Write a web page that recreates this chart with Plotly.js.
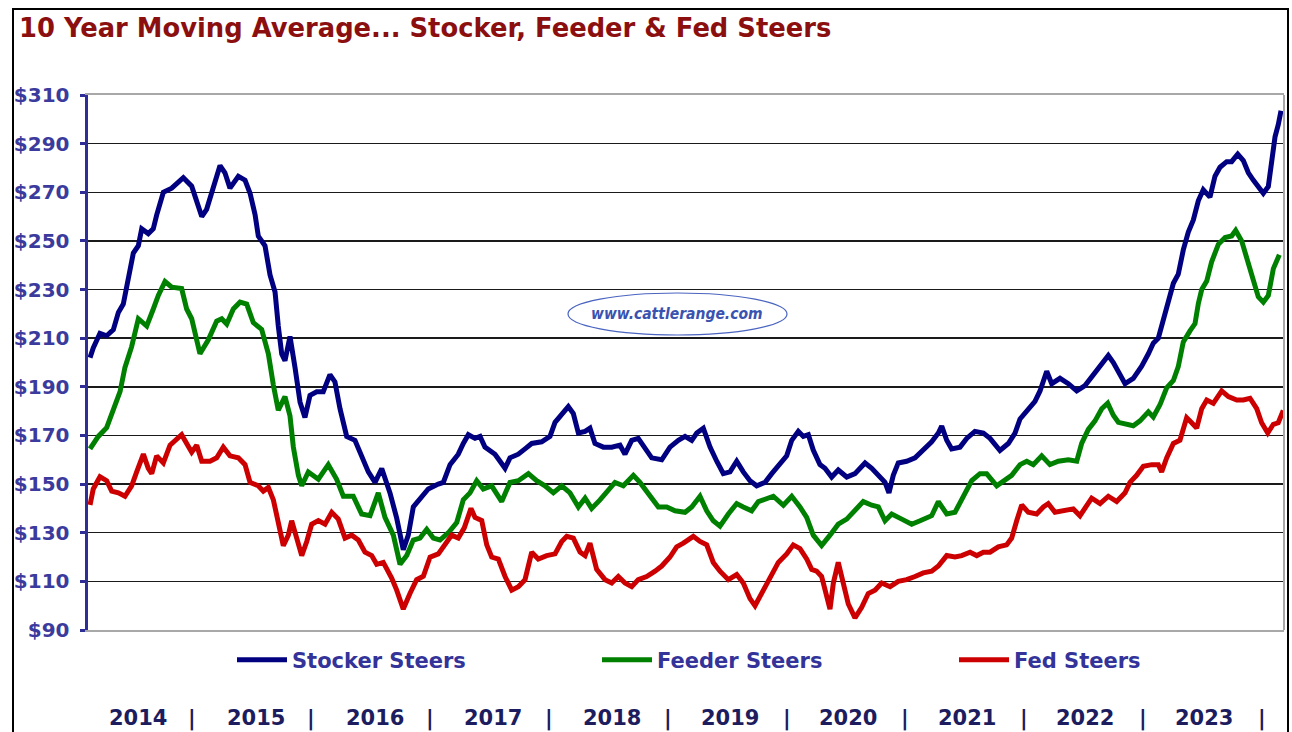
<!DOCTYPE html>
<html>
<head>
<meta charset="utf-8">
<script src="https://cdn.plot.ly/plotly-3.0.1.min.js"></script>
<style>
html,body{margin:0;padding:0;background:#fff;}
#chart{width:1292px;height:732px;}
</style>
</head>
<body>
<div id="chart"></div>
<script>
// ---- Data (x = fractional year) ----
const stockerX = [
2014.017,2014.044,2014.100,2014.156,2014.212,2014.254,2014.295,2014.337,2014.379,2014.421,2014.449,2014.504,2014.546,2014.574,2014.630,2014.700,2014.755,2014.797,2014.867,2014.909,2014.951,2014.992,
2015.048,2015.104,2015.145,2015.187,2015.257,2015.313,2015.355,2015.397,2015.424,2015.480,2015.522,2015.564,2015.591,2015.620,2015.647,2015.689,2015.731,2015.773,2015.814,2015.856,2015.912,2015.967,
2016.023,2016.065,2016.107,2016.163,2016.232,2016.288,2016.344,2016.400,2016.456,2016.525,2016.581,2016.636,2016.678,2016.720,2016.790,2016.845,2016.929,2016.971,
2017.027,2017.096,2017.138,2017.180,2017.236,2017.278,2017.319,2017.403,2017.445,2017.487,2017.528,2017.598,2017.654,2017.710,2017.793,2017.863,2017.905,2017.961,
2018.016,2018.058,2018.100,2018.156,2018.197,2018.239,2018.309,2018.379,2018.448,2018.490,2018.546,2018.601,2018.657,2018.713,2018.797,2018.866,2018.936,2018.992,
2019.048,2019.090,2019.145,2019.201,2019.257,2019.312,2019.368,2019.424,2019.479,2019.535,2019.591,2019.661,2019.717,2019.786,2019.842,2019.884,2019.939,2019.981,
2020.023,2020.064,2020.120,2020.162,2020.218,2020.273,2020.344,2020.413,2020.497,2020.553,2020.608,2020.664,2020.697,2020.733,2020.775,2020.845,2020.915,2020.984,
2021.054,2021.110,2021.138,2021.180,2021.221,2021.291,2021.347,2021.416,2021.486,2021.542,2021.625,2021.695,2021.751,2021.793,2021.849,2021.918,2021.960,
2022.016,2022.058,2022.127,2022.197,2022.267,2022.336,2022.392,2022.462,2022.531,2022.573,2022.615,2022.671,2022.740,2022.810,2022.866,2022.907,2022.949,2022.991,
2023.033,2023.075,2023.116,2023.158,2023.200,2023.242,2023.284,2023.325,2023.381,2023.423,2023.465,2023.521,2023.562,2023.613,2023.660,2023.702,2023.743,2023.785,2023.827,2023.869,2023.897,2023.925,2023.952,2023.975
];
const stockerY = [
202,206,212,211,213.5,220.6,224,234.8,245,248,255,253,255,260.6,270,271.7,274,276,272.5,266.8,260,263,
272.4,281,278,271.7,276.6,275,269.6,260.8,252,248,236,229,215,203.5,200.7,210.7,197.9,183.7,177.4,186.5,188,188,
195,192,181,169.6,168,160.8,155,150.7,156.4,146.4,136,123,129,140.6,145,148,150,150.7,
158,162.3,166.7,170.3,168.8,169.6,165.2,162.3,159.4,156.5,160.8,162.3,164.5,166.7,167.4,169.6,175.4,179,
181.9,179,171,171.7,173,166.7,165.2,165.2,166,162.3,168,168.8,165.2,160.8,160,165.2,168,169.6,
168,171,173,165.2,159.4,154.3,155,159.4,155,151.4,149.3,150.7,154.3,158,161.6,168,171.7,169.6,
170.3,164,158,156.5,152.9,155.8,152.9,154.3,158.7,156.5,153.6,150.7,146.4,153.6,158.7,159.4,160.8,164,
167.4,171,173.9,168,164.5,165.2,168.8,171.7,171,168.8,163.8,166.7,171,176.8,180.4,184,188.3,
196.4,191.3,193.5,191.3,188.3,190.5,194.2,198.5,202.9,200,196.4,191.3,193.5,198.5,203.6,207.9,210,218,
225,232.6,236.3,246.3,253.6,258.6,266.6,271,268,276.6,280.3,282.6,282.6,285.7,283,278,275,272.4,269.6,272.4,283.6,292.8,297.8,303.5
];

const feederX = [
2014.017,2014.086,2014.156,2014.212,2014.268,2014.309,2014.365,2014.421,2014.491,2014.546,2014.588,2014.644,2014.700,2014.783,2014.825,2014.867,2014.936,
2015.006,2015.076,2015.118,2015.160,2015.215,2015.271,2015.327,2015.382,2015.452,2015.508,2015.550,2015.591,2015.647,2015.689,2015.717,2015.759,2015.787,2015.842,2015.926,
2016.009,2016.079,2016.135,2016.218,2016.288,2016.358,2016.427,2016.483,2016.553,2016.609,2016.665,2016.720,2016.776,2016.832,2016.887,2016.943,
2017.013,2017.083,2017.138,2017.194,2017.250,2017.305,2017.375,2017.459,2017.528,2017.598,2017.682,2017.751,2017.821,2017.891,2017.961,
2018.030,2018.100,2018.156,2018.211,2018.281,2018.337,2018.406,2018.476,2018.560,2018.615,2018.685,2018.769,2018.839,2018.908,2018.992,
2019.048,2019.117,2019.173,2019.228,2019.284,2019.354,2019.424,2019.479,2019.549,2019.605,2019.730,2019.814,2019.884,2019.953,
2020.009,2020.064,2020.134,2020.204,2020.273,2020.344,2020.413,2020.482,2020.553,2020.608,2020.664,2020.720,2020.804,2020.887,2020.957,
2021.054,2021.110,2021.180,2021.249,2021.319,2021.389,2021.458,2021.514,2021.598,2021.653,2021.723,2021.793,2021.849,2021.904,2021.974,
2022.043,2022.113,2022.197,2022.267,2022.308,2022.364,2022.420,2022.476,2022.526,2022.573,2022.615,2022.671,2022.740,2022.796,2022.866,2022.907,2022.963,
2023.019,2023.075,2023.116,2023.158,2023.214,2023.256,2023.284,2023.312,2023.354,2023.395,2023.451,2023.507,2023.562,2023.596,2023.646,2023.702,2023.743,2023.785,2023.827,2023.869,2023.911,2023.961
];
const feederY = [
164.5,169.6,173.2,180.4,188,198,206.5,218,215,222,227.6,233.3,231,230.4,222,218,203.6,
209.3,217,218,215.8,222,224.8,224,216.4,213.6,203.6,190.7,180.4,186,178,165.2,153.6,149.3,155,152,
158,152,145,145,137.7,137,146.4,136.3,129,117,120.6,127,127.8,131.4,127.8,127,
130,134.2,143.5,146.4,151.4,148,149.3,142.8,150.7,151.4,154.3,151.4,149.3,146.4,149.3,
146.4,140.6,144.2,140,143.5,146.4,150.7,149.3,153.6,150.7,146.4,140.6,140.6,139,138.4,
140.6,145,139,134.9,132.7,137.7,142,140.6,139,142.8,145,141.3,145,140.6,
136.3,129,124.7,129,133.5,135.6,139,142.8,141.3,140.6,134.9,137.7,135.6,133.5,134.9,
137,142.8,137.7,138.4,145,151.4,154.3,154.3,149.3,151.4,153.6,158,159.4,158,161.6,
158,159.4,160,159.4,166.7,172.5,176,181,183.3,178.3,175.4,174.6,174,176,179.7,177.6,182.6,
189.6,192.6,198.3,208.5,213,216,224.3,230,233.5,241.4,248.6,251.4,252,254.3,250,240,232.7,227,224.8,227.6,238.6,244.3
];

const fedX = [
2014.017,2014.044,2014.100,2014.156,2014.198,2014.254,2014.309,2014.365,2014.407,2014.463,2014.504,2014.533,2014.574,2014.630,2014.686,2014.727,2014.783,2014.825,2014.867,2014.909,2014.951,
2015.020,2015.076,2015.131,2015.187,2015.257,2015.313,2015.355,2015.424,2015.466,2015.508,2015.550,2015.591,2015.633,2015.675,2015.703,2015.745,2015.787,2015.829,2015.870,2015.926,2015.982,
2016.038,2016.093,2016.149,2016.205,2016.260,2016.316,2016.372,2016.414,2016.469,2016.539,2016.581,2016.636,2016.692,2016.748,2016.804,2016.860,2016.929,2016.985,
2017.041,2017.096,2017.146,2017.202,2017.236,2017.292,2017.334,2017.375,2017.431,2017.487,2017.543,2017.598,2017.654,2017.710,2017.765,2017.835,2017.905,2017.961,
2018.003,2018.058,2018.114,2018.156,2018.197,2018.253,2018.323,2018.379,2018.434,2018.490,2018.546,2018.601,2018.671,2018.741,2018.797,2018.866,2018.922,2018.978,
2019.061,2019.117,2019.173,2019.228,2019.284,2019.354,2019.424,2019.479,2019.535,2019.577,2019.633,2019.702,2019.772,2019.842,2019.897,2019.953,
2020.009,2020.051,2020.092,2020.134,2020.176,2020.204,2020.232,2020.273,2020.315,2020.357,2020.413,2020.469,2020.524,2020.580,2020.636,2020.706,2020.775,2020.845,2020.915,2020.984,
2021.054,2021.110,2021.180,2021.249,2021.305,2021.375,2021.431,2021.486,2021.542,2021.611,2021.681,2021.723,2021.765,2021.807,2021.862,2021.932,2021.988,
2022.029,2022.085,2022.169,2022.238,2022.294,2022.350,2022.392,2022.462,2022.531,2022.601,2022.671,2022.712,2022.768,2022.824,2022.894,2022.949,2022.977,
2023.019,2023.075,2023.130,2023.186,2023.228,2023.270,2023.312,2023.354,2023.409,2023.479,2023.535,2023.605,2023.660,2023.716,2023.772,2023.813,2023.864,2023.911,2023.952,2023.994
];
const fedY = [
141.4,148,153,151.4,147.1,146.4,145,149.3,155,162.3,156.5,154.3,161.6,158.7,166,168,170.3,166.7,163.1,166,159.4,
159.4,160.8,165.2,161.6,160.8,158,150.7,149.3,147.1,148.6,143.5,133.4,124.7,129,134.9,127.8,120.6,126.4,133.5,135,133.5,
138.4,135.6,127.8,129,127,122,120.6,117,117.8,111.4,106.4,98.6,105,110.7,112.1,120,121.3,125,
129,127.8,132,140,136.3,135,125,120,119.2,112,106.4,107.8,110.7,122,119.2,120.6,121.3,126.4,
128.5,127.8,122,120.6,125.7,114.9,110.7,109.3,112,109.3,107.8,110.7,112,114.2,116.3,120,124.2,125.7,
128.5,126.4,125,117.8,114.2,110.7,112.8,109.3,102.9,100,105,112,117.8,121.3,125,123.5,
119.2,114.9,114.2,112,103.6,98.6,109.3,117.8,109.3,100.7,95,99.3,105,106.4,109.3,107.8,110,110.7,112,113.5,
114.2,116.3,120.6,120,120.6,122,120.6,122,122,124.2,125,127.8,134.9,141.4,138.4,137.7,140.6,
142,138.4,139,139.8,137,141.3,144.2,142,145,142.8,146.4,150.7,153.6,157.3,158,158,155,
160.8,166.7,168,177.3,175.2,173,181,184.6,183.2,188.3,186,184.6,184.6,185.3,181,175.2,171,174.6,175.2,180.3
];

const seriesNames = ['Stocker Steers', 'Feeder Steers', 'Fed Steers'];
const yTickValues = [90,110,130,150,170,190,210,230,250,270,290,310];
const yearLabels = ['2014','2015','2016','2017','2018','2019','2020','2021','2022','2023'];
const chartTitle = '10 Year Moving Average... Stocker, Feeder & Fed Steers';
const watermark = 'www.cattlerange.com';

// ---- Styling / layout ----
const W = 1292, H = 732;
const M = {l: 88, r: 8, t: 95, b: 102};
const plotW = W - M.l - M.r, plotH = H - M.t - M.b;
const px2paperX = px => (px - M.l) / plotW;
const py2paperY = py => (H - M.b - py) / plotH;

const colors = ['#000080', '#008000', '#cc0000'];
const tickBlue = '#3b3b9d';
const navyText = '#1c1c5e';
const legendIds = ['legend', 'legend2', 'legend3'];
const legendLeftPx = [232, 597, 954];

function mk(x, y, i) {
  return {x: x, y: y, type: 'scatter', mode: 'lines', name: seriesNames[i], legend: legendIds[i],
    line: {color: colors[i], width: 5}, hoverinfo: 'skip'};
}
const traces = [mk(stockerX, stockerY, 0), mk(feederX, feederY, 1), mk(fedX, fedY, 2)];

const annotations = [];
yearLabels.forEach((yr, i) => {
  annotations.push({xref: 'paper', yref: 'paper', x: px2paperX(138 + i * 118.4), y: py2paperY(718),
    text: yr, showarrow: false, xanchor: 'center', yanchor: 'middle',
    font: {family: 'DejaVu Sans', size: 21, color: navyText, weight: 'bold'}});
  annotations.push({xref: 'paper', yref: 'paper', x: px2paperX(192 + i * 118.9), y: py2paperY(718),
    text: '|', showarrow: false, xanchor: 'center', yanchor: 'middle',
    font: {family: 'DejaVu Sans', size: 21, color: navyText, weight: 'bold'}});
});
annotations.push({xref: 'paper', yref: 'paper', x: px2paperX(677), y: py2paperY(314),
  text: watermark, showarrow: false, xanchor: 'center', yanchor: 'middle',
  font: {family: 'DejaVu Sans Condensed', size: 15.5, color: '#3a52b0', weight: 'bold', style: 'italic'}});

const shapes = [
  {type: 'circle', xref: 'paper', yref: 'paper', x0: px2paperX(568), x1: px2paperX(787),
   y0: py2paperY(335), y1: py2paperY(293), line: {color: '#4a64c0', width: 1.2}, layer: 'above'},
  {type: 'line', xref: 'paper', yref: 'paper', x0: 1, x1: 1, y0: 0, y1: 1,
   line: {color: '#a8a8a8', width: 2}},
  {type: 'rect', xref: 'paper', yref: 'paper', x0: px2paperX(13), x1: px2paperX(1288),
   y0: py2paperY(760), y1: py2paperY(9), line: {color: '#000', width: 2}, layer: 'above'}
];

const layout = {
  width: W, height: H,
  margin: M,
  paper_bgcolor: '#fff', plot_bgcolor: '#fff',
  showlegend: true,
  title: {text: chartTitle, xref: 'container', yref: 'container',
    x: 19 / W, xanchor: 'left', y: 1 - 28 / H, yanchor: 'middle',
    font: {family: 'DejaVu Sans', size: 25.8, color: '#8b0f0f', weight: 'bold'}},
  xaxis: {range: [2014, 2024], showgrid: false, zeroline: false, showticklabels: false,
    ticks: '', showline: true, linecolor: '#a8a8a8', linewidth: 2, mirror: true, fixedrange: true},
  yaxis: {range: [90, 310], tickvals: yTickValues, ticktext: yTickValues.map(v => '$' + v),
    showgrid: true, gridcolor: '#1a1a1a', gridwidth: 1.5, zeroline: false,
    showline: true, linecolor: '#2e2e96', linewidth: 3.5,
    ticks: 'outside', ticklen: 5, tickwidth: 3, tickcolor: '#2e2e96',
    ticklabelstandoff: 6,
    tickfont: {family: 'DejaVu Sans', size: 20, color: tickBlue, weight: 'bold'}, fixedrange: true},
  annotations: annotations,
  shapes: shapes
};
legendIds.forEach((id, i) => {
  layout[id] = {orientation: 'h', x: px2paperX(legendLeftPx[i]), y: py2paperY(660),
    xanchor: 'left', yanchor: 'middle', itemwidth: 50,
    font: {family: 'DejaVu Sans', size: 21, color: '#333399', weight: 'bold'},
    bgcolor: 'rgba(0,0,0,0)'};
});

Plotly.newPlot('chart', traces, layout, {staticPlot: true, displayModeBar: false});
</script>
</body>
</html>
